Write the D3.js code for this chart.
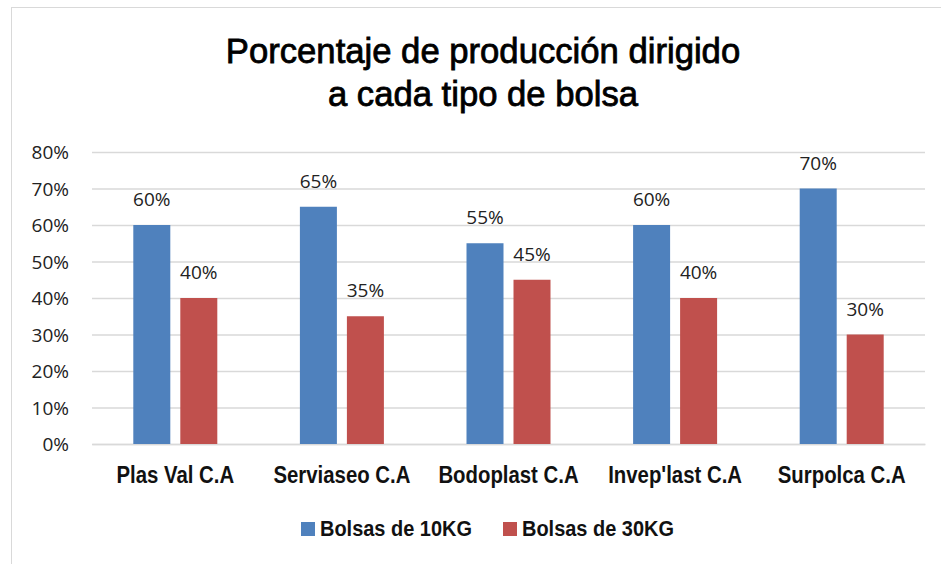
<!DOCTYPE html>
<html><head><meta charset="utf-8">
<script src="https://cdn.jsdelivr.net/npm/d3@7"></script>
<style>body{margin:0;background:#fff}</style>
</head><body>
<svg id="c" width="941" height="564"></svg>
<script>
const categories = ["Plas Val C.A","Serviaseo C.A","Bodoplast C.A","Invep'last C.A","Surpolca C.A"];
const seriesNames = ["Bolsas de 10KG","Bolsas de 30KG"];
const bolsas10 = [0.60,0.65,0.55,0.60,0.70];
const bolsas30 = [0.40,0.35,0.45,0.40,0.30];
const yTicks = [0,0.1,0.2,0.3,0.4,0.5,0.6,0.7,0.8];
const titleLines = ["Porcentaje de producción dirigido","a cada tipo de bolsa"];
const colors = ["#4F81BD","#C0504D"];

(function(){
function condense(k){
  return sel => sel.each(function(){
    const w = this.getComputedTextLength();
    d3.select(this).attr("textLength", w*k).attr("lengthAdjust","spacingAndGlyphs");
  });
}
const svg = d3.select("#c");
svg.append("rect").attr("x",11.5).attr("y",7.5).attr("width",960).attr("height",600)
  .attr("fill","#fff").attr("stroke","#D9D9D9").attr("stroke-width",1);

const pL=92,pR=925,pT=152,pB=444;
const x = d3.scaleBand().domain(categories).range([pL,pR]);
const y = d3.scaleLinear().domain([0,0.8]).range([pB,pT]);
const barW = 37, gap = 10;
const fmt = d3.format(".0%");

const yAxis = d3.axisLeft(y).tickValues(yTicks).tickFormat(fmt).tickSize(-(pR-pL)).tickPadding(23);
const gy = svg.append("g").attr("transform",`translate(${pL},0)`).call(yAxis);
gy.select(".domain").remove();
gy.selectAll(".tick line").attr("stroke","#D9D9D9").attr("stroke-width",1.3);
gy.selectAll(".tick text").attr("font-family","'Open Sans', sans-serif").attr("font-size",19).attr("fill","#222").attr("dy","0.35em");

const xAxis = d3.axisBottom(x).tickSize(0).tickPadding(0);
const gx = svg.append("g").attr("transform",`translate(0,${pB})`).call(xAxis);
gx.select(".domain").attr("stroke","#D9D9D9").attr("stroke-width",1.3);
gx.selectAll(".tick text").attr("y",39).attr("dy",0).attr("font-family","'Liberation Sans', Arial, sans-serif")
  .attr("font-weight","bold").attr("font-size",23).attr("fill","#111").call(condense(0.885));

const series = [bolsas10,bolsas30];
series.forEach((vals,si)=>{
  const off = si===0 ? -gap/2-barW : gap/2;
  const g = svg.append("g");
  g.selectAll("rect").data(vals).join("rect")
    .attr("x",(d,i)=>x(categories[i])+x.bandwidth()/2+off)
    .attr("y",d=>y(d)).attr("width",barW).attr("height",d=>pB-y(d))
    .attr("fill",colors[si]);
  g.selectAll("text").data(vals).join("text")
    .attr("x",(d,i)=>x(categories[i])+x.bandwidth()/2+off+barW/2)
    .attr("y",d=>y(d)-19).attr("text-anchor","middle")
    .attr("font-family","'Open Sans', sans-serif").attr("font-size",19).attr("fill","#222")
    .text(d=>fmt(d));
});

svg.append("g").selectAll("text").data(titleLines).join("text")
  .attr("x",483).attr("y",(d,i)=>63+i*43).attr("text-anchor","middle")
  .attr("font-family","'Liberation Sans', Arial, sans-serif")
  .attr("font-size",35).attr("fill","#000").attr("stroke","#000").attr("stroke-width",0.8).text(d=>d).call(condense(0.99));

const legX=[301,503];
const lg = svg.append("g");
seriesNames.forEach((n,i)=>{
  lg.append("rect").attr("x",legX[i]).attr("y",522).attr("width",14).attr("height",14).attr("fill",colors[i]);
  lg.append("text").attr("x",legX[i]+19).attr("y",536)
    .attr("font-family","'Liberation Sans', Arial, sans-serif")
    .attr("font-weight","bold").attr("font-size",22).attr("fill","#111").text(n).call(condense(0.907));
});
})();
</script>
</body></html>
